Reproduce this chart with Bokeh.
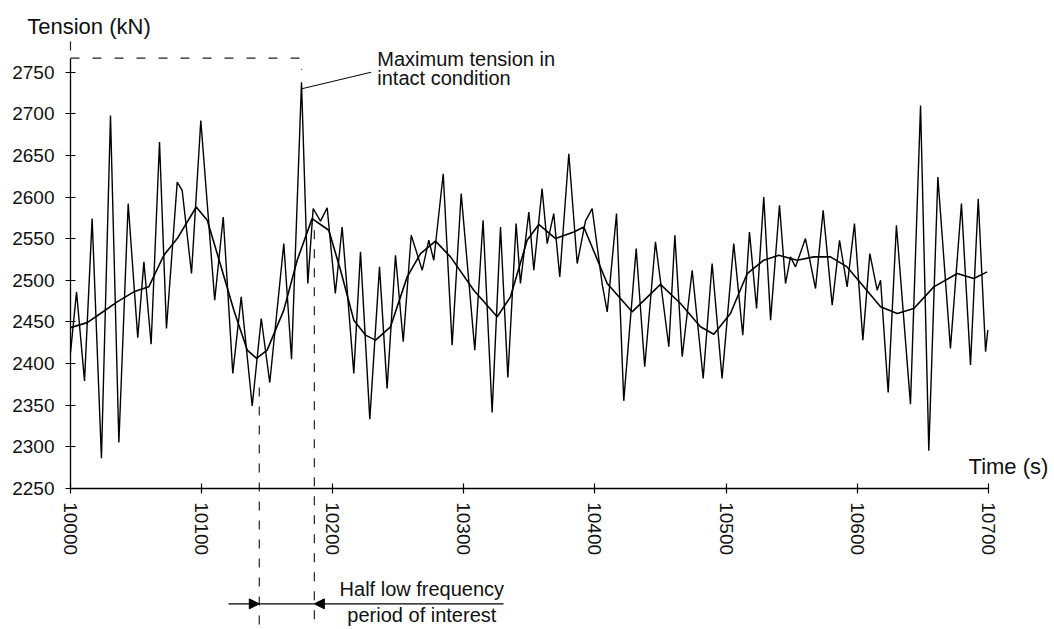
from bokeh.plotting import figure
from bokeh.models import Range1d, Label, Arrow, NormalHead
from bokeh.embed import file_html
from bokeh.resources import INLINE

# ---------------- data ----------------
time_s = [10000.0, 10004.6, 10010.7, 10016.5, 10023.6, 10030.5, 10036.9, 10044.0, 10051.3, 10056.0,
          10061.5, 10067.9, 10073.2, 10081.4, 10085.2, 10092.3, 10099.4, 10110.0, 10116.5, 10123.8,
          10130.2, 10138.6, 10145.5, 10152.0, 10162.7, 10168.6, 10176.2, 10181.0, 10185.1, 10190.7,
          10195.8, 10202.0, 10207.2, 10216.1, 10221.2, 10228.3, 10235.7, 10241.5, 10247.9, 10253.8,
          10259.9, 10268.3, 10273.3, 10277.1, 10284.3, 10291.1, 10298.0, 10308.4, 10314.7, 10321.6,
          10328.0, 10333.6, 10339.9, 10343.2, 10349.6, 10353.4, 10359.7, 10363.6, 10368.6, 10373.2,
          10380.1, 10386.5, 10392.8, 10397.9, 10405.5, 10409.4, 10416.5, 10422.0, 10431.5, 10438.0,
          10446.2, 10456.4, 10461.0, 10466.6, 10474.2, 10482.6, 10489.4, 10497.0, 10505.9, 10512.8,
          10517.9, 10523.3, 10528.8, 10534.0, 10540.8, 10545.4, 10549.2, 10553.0, 10560.6, 10568.3,
          10574.1, 10581.0, 10586.6, 10592.4, 10598.0, 10604.4, 10609.7, 10615.3, 10617.9, 10623.7,
          10630.0, 10640.7, 10648.4, 10654.7, 10661.6, 10671.2, 10679.6, 10686.5, 10692.4, 10698.0,
          10699.7]
tension_kn = [2413, 2486, 2379, 2574, 2286, 2698, 2305, 2592, 2431, 2522,
              2423, 2666, 2442, 2618, 2608, 2508, 2692, 2476, 2576, 2388,
              2480, 2349, 2454, 2377, 2544, 2405, 2738, 2496, 2586, 2571,
              2587, 2484, 2564, 2388, 2534, 2333, 2516, 2370, 2530, 2426,
              2554, 2512, 2548, 2524, 2628, 2422, 2604, 2416, 2572, 2341,
              2564, 2383, 2568, 2496, 2582, 2512, 2610, 2544, 2580, 2504,
              2652, 2520, 2571, 2586, 2496, 2462, 2580, 2355, 2538, 2396,
              2546, 2420, 2554, 2408, 2512, 2382, 2520, 2382, 2544, 2434,
              2558, 2466, 2600, 2452, 2590, 2496, 2528, 2516, 2550, 2490,
              2584, 2470, 2548, 2492, 2568, 2428, 2532, 2488, 2500, 2365,
              2566, 2351, 2710, 2295, 2624, 2418, 2592, 2398, 2598, 2414,
              2440]

lf_time_s = [10000.0, 10012.7, 10022.9, 10035.6, 10048.3, 10059.7, 10071.2, 10081.4, 10095.9, 10104.3,
             10111.9, 10124.6, 10134.8, 10141.9, 10150.0, 10162.7, 10172.9, 10184.3, 10197.0, 10206.0,
             10216.1, 10225.0, 10232.7, 10244.1, 10256.8, 10267.0, 10278.4, 10289.9, 10307.6, 10325.5,
             10335.6, 10348.3, 10357.2, 10370.0, 10383.9, 10391.5, 10409.4, 10428.4, 10450.0, 10465.3,
             10480.5, 10490.7, 10503.4, 10516.2, 10528.8, 10540.3, 10554.3, 10567.0, 10579.7, 10592.4,
             10605.1, 10617.9, 10630.6, 10643.3, 10658.5, 10676.4, 10689.0, 10699.2]
lf_tension_kn = [2443, 2449, 2460, 2474, 2486, 2492, 2530, 2550, 2588, 2572,
                 2532, 2464, 2416, 2406, 2416, 2464, 2524, 2574, 2560, 2512,
                 2452, 2434, 2428, 2444, 2504, 2532, 2547, 2528, 2488, 2456,
                 2480, 2548, 2567, 2550, 2558, 2564, 2496, 2462, 2495, 2472,
                 2444, 2435, 2460, 2508, 2524, 2530, 2524, 2528, 2528, 2516,
                 2492, 2468, 2460, 2466, 2492, 2508, 2502, 2510]

x_ticks = [10000, 10100, 10200, 10300, 10400, 10500, 10600, 10700]
y_ticks = [2250, 2300, 2350, 2400, 2450, 2500, 2550, 2600, 2650, 2700, 2750]

max_ref_level = 2767          # dashed reference level at the top
half_period_start = 10144     # low-frequency trough
half_period_end = 10186       # low-frequency peak

# ---------------- figure ----------------
FONT = "Liberation Sans"
W, H = 1054, 629
px_x = 1.311   # pixels per second
px_y = 0.832   # pixels per kN
x0 = 10000 - 70 / px_x
x1 = x0 + W / px_x
y0 = 2250 - (H - 487.7) / px_y
y1 = y0 + H / px_y

p = figure(width=W, height=H, x_range=Range1d(x0, x1), y_range=Range1d(y0, y1),
           min_border=0, toolbar_location=None, output_backend="svg")
p.outline_line_color = None
p.xgrid.visible = False
p.ygrid.visible = False
p.background_fill_color = "white"

for ax in (p.xaxis, p.yaxis):
    ax.axis_line_color = "black"
    ax.axis_line_width = 1.3
    ax.major_tick_line_color = "black"
    ax.major_tick_line_width = 1.2
    ax.minor_tick_line_color = None
    ax.major_tick_in = 5
    ax.major_tick_out = 5
    ax.major_label_text_font = FONT
    ax.major_label_text_font_size = "19px"
    ax.major_label_text_color = "#111111"

p.xaxis.fixed_location = 2250
p.xaxis.bounds = (10000, 10700)
p.xaxis.ticker = x_ticks
p.xaxis.major_label_orientation = "vertical"
p.xaxis.major_label_standoff = 9

p.yaxis.fixed_location = 10000
p.yaxis.bounds = (2250, max_ref_level)
p.yaxis.ticker = y_ticks
p.yaxis.major_label_standoff = 11

# signal lines
p.line(time_s, tension_kn, line_color="black", line_width=1.4)
p.line(lf_time_s, lf_tension_kn, line_color="black", line_width=1.6)

# maximum tension annotation
imax = max(range(len(tension_kn)), key=lambda i: tension_kn[i])
t_max, T_max = time_s[imax], tension_kn[imax]
p.line([10000, t_max, t_max], [max_ref_level, max_ref_level, max_ref_level - 14],
       line_color="#222222", line_width=1.2, line_dash="9 13")
p.line([10000, 10000], [max_ref_level + 9, max_ref_level + 20], line_color="#222222", line_width=1.2)
p.line([t_max, 10229.4], [T_max - 8, 2750], line_color="black", line_width=1.0)
p.add_layout(Label(x=10234, y=2765.5, text="Maximum tension in", text_font=FONT,
                   text_font_size="20px", text_color="#111111", text_baseline="alphabetic"))
p.add_layout(Label(x=10234, y=2743.5, text="intact condition", text_font=FONT,
                   text_font_size="20px", text_color="#111111", text_baseline="alphabetic"))

# half period markers
y_bottom = y0
p.line([half_period_start, half_period_start], [2371, y_bottom], line_color="#222222",
       line_width=1.2, line_dash="9 10")
p.line([half_period_end, half_period_end], [2560, y_bottom], line_color="#222222",
       line_width=1.2, line_dash="9 10")
y_arrow = 2111.0
p.add_layout(Arrow(x_start=10120.5, y_start=y_arrow, x_end=half_period_start, y_end=y_arrow,
                   end=NormalHead(size=10, fill_color="black", line_color="black"),
                   line_color="black", line_width=1.2))
p.add_layout(Arrow(x_start=10330.3, y_start=y_arrow, x_end=half_period_end, y_end=y_arrow,
                   end=NormalHead(size=10, fill_color="black", line_color="black"),
                   line_color="black", line_width=1.2))
p.line([half_period_start, half_period_end], [y_arrow, y_arrow], line_color="black", line_width=1.2)
p.add_layout(Label(x=10268, y=2129, text="Half low frequency", text_font=FONT,
                   text_font_size="20px", text_color="#111111", text_align="center",
                   text_baseline="alphabetic"))
p.add_layout(Label(x=10268, y=2097, text="period of interest", text_font=FONT,
                   text_font_size="20px", text_color="#111111", text_align="center",
                   text_baseline="alphabetic"))

# axis titles
p.add_layout(Label(x=9967, y=2805, text="Tension (kN)", text_font=FONT,
                   text_font_size="22px", text_color="#111111", text_baseline="alphabetic"))
p.add_layout(Label(x=10685, y=2276.5, text="Time (s)", text_font=FONT,
                   text_font_size="22px", text_color="#111111", text_baseline="alphabetic"))

open("out.html", "w").write(file_html(p, INLINE))
